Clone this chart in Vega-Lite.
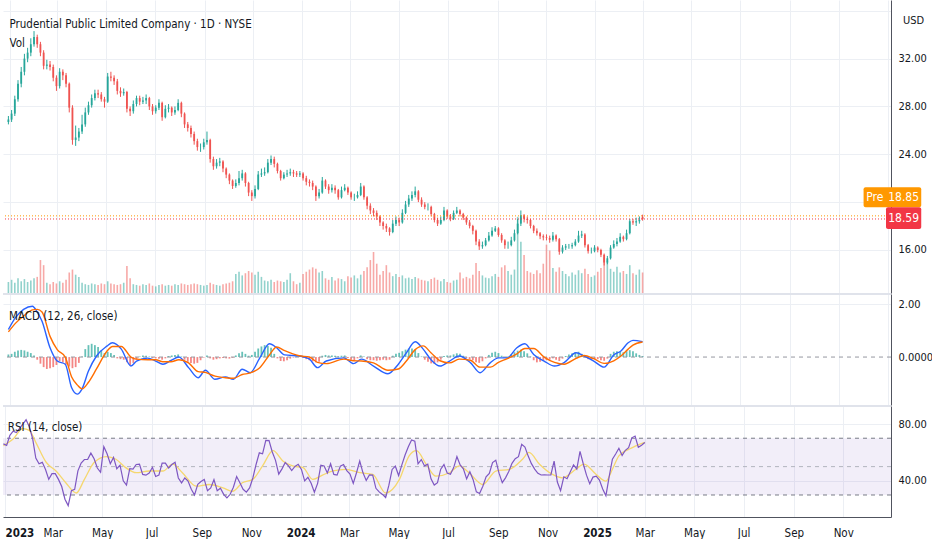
{
  "$schema": "https://vega.github.io/schema/vega-lite/v6.json",
  "background": "#ffffff",
  "padding": 0,
  "spacing": 0,
  "config": {
    "font": "DejaVu Sans Condensed, Liberation Sans Narrow, sans-serif",
    "view": {"stroke": null},
    "axis": {"gridColor": "#eceff4", "gridWidth": 1, "labelColor": "#131722", "labelFontSize": 11, "domainColor": "#50535e", "ticks": false, "title": null},
    "title": {"anchor": "start", "fontSize": 11.5, "fontWeight": "normal", "color": "#131722"}
  },
  "datasets": {
    "bars": [
      {"d":"2022-12-30","o":26.7,"h":27.2,"l":26.5,"c":26.9,"v":1.5,"m":0.1,"r":66},
      {"d":"2023-01-03","o":26.9,"h":27.7,"l":26.7,"c":27.4,"v":1.8,"m":0.12,"r":65},
      {"d":"2023-01-07","o":27.4,"h":28.9,"l":27.2,"c":28.6,"v":1.4,"m":0.2,"r":72},
      {"d":"2023-01-11","o":28.6,"h":30.2,"l":28.4,"c":29.9,"v":2.0,"m":0.25,"r":75},
      {"d":"2023-01-15","o":29.9,"h":31.3,"l":29.6,"c":30.9,"v":1.6,"m":0.27,"r":74},
      {"d":"2023-01-19","o":30.9,"h":32.4,"l":30.6,"c":32.0,"v":1.9,"m":0.25,"r":77},
      {"d":"2023-01-23","o":32.0,"h":32.9,"l":31.7,"c":32.5,"v":1.5,"m":0.2,"r":80},
      {"d":"2023-01-27","o":32.5,"h":33.7,"l":32.2,"c":33.2,"v":1.7,"m":0.15,"r":83},
      {"d":"2023-01-31","o":33.2,"h":34.3,"l":33.0,"c":33.8,"v":2.0,"m":0.06,"r":78},
      {"d":"2023-02-04","o":33.8,"h":34.0,"l":32.9,"c":33.2,"v":2.2,"m":-0.1,"r":70},
      {"d":"2023-02-08","o":33.2,"h":33.4,"l":32.2,"c":32.5,"v":4.5,"m":-0.25,"r":56},
      {"d":"2023-02-12","o":32.5,"h":32.7,"l":31.1,"c":31.4,"v":3.8,"m":-0.38,"r":52},
      {"d":"2023-02-16","o":31.4,"h":31.9,"l":31.1,"c":31.5,"v":1.4,"m":-0.45,"r":53},
      {"d":"2023-02-20","o":31.5,"h":31.8,"l":31.0,"c":31.3,"v":1.2,"m":-0.42,"r":48},
      {"d":"2023-02-24","o":31.3,"h":31.5,"l":30.1,"c":30.4,"v":1.5,"m":-0.38,"r":41},
      {"d":"2023-02-28","o":30.4,"h":30.6,"l":29.3,"c":29.7,"v":1.3,"m":-0.3,"r":45},
      {"d":"2023-03-04","o":29.7,"h":31.2,"l":29.5,"c":30.9,"v":1.6,"m":-0.15,"r":45},
      {"d":"2023-03-08","o":30.9,"h":31.1,"l":30.2,"c":30.6,"v":1.4,"m":-0.2,"r":41},
      {"d":"2023-03-12","o":30.6,"h":30.8,"l":29.6,"c":29.9,"v":1.8,"m":-0.28,"r":36},
      {"d":"2023-03-16","o":29.9,"h":30.0,"l":27.5,"c":27.9,"v":2.8,"m":-0.36,"r":27},
      {"d":"2023-03-20","o":27.9,"h":28.1,"l":24.8,"c":25.2,"v":3.2,"m":-0.42,"r":22.5},
      {"d":"2023-03-24","o":25.2,"h":26.4,"l":24.7,"c":25.4,"v":2.5,"m":-0.38,"r":33},
      {"d":"2023-03-28","o":25.4,"h":26.2,"l":25.1,"c":25.9,"v":2.2,"m":-0.22,"r":34},
      {"d":"2023-04-01","o":25.9,"h":27.3,"l":25.7,"c":26.5,"v":1.4,"m":0.02,"r":47},
      {"d":"2023-04-05","o":26.5,"h":27.9,"l":26.3,"c":27.5,"v":1.2,"m":0.3,"r":52.5},
      {"d":"2023-04-09","o":27.5,"h":28.4,"l":27.3,"c":28.1,"v":1.1,"m":0.45,"r":55},
      {"d":"2023-04-13","o":28.1,"h":29.0,"l":27.9,"c":28.7,"v":1.3,"m":0.5,"r":55},
      {"d":"2023-04-17","o":28.7,"h":29.4,"l":28.5,"c":29.1,"v":1.2,"m":0.45,"r":59.5},
      {"d":"2023-04-21","o":29.1,"h":29.4,"l":28.7,"c":29.0,"v":1.1,"m":0.38,"r":55.5},
      {"d":"2023-04-25","o":29.0,"h":29.2,"l":28.4,"c":28.6,"v":1.3,"m":0.25,"r":49},
      {"d":"2023-04-29","o":28.6,"h":28.8,"l":27.9,"c":28.4,"v":1.2,"m":0.15,"r":46},
      {"d":"2023-05-03","o":28.4,"h":30.8,"l":28.3,"c":30.5,"v":1.6,"m":0.2,"r":64},
      {"d":"2023-05-07","o":30.5,"h":30.9,"l":30.1,"c":30.4,"v":1.3,"m":0.15,"r":59},
      {"d":"2023-05-11","o":30.4,"h":30.6,"l":29.8,"c":30.1,"v":1.2,"m":0.08,"r":52},
      {"d":"2023-05-15","o":30.1,"h":30.3,"l":29.0,"c":29.3,"v":1.1,"m":-0.05,"r":56.5},
      {"d":"2023-05-19","o":29.3,"h":29.6,"l":28.8,"c":29.1,"v":1.2,"m":-0.08,"r":48.5},
      {"d":"2023-05-23","o":29.1,"h":29.5,"l":28.9,"c":29.2,"v":1.4,"m":-0.1,"r":51},
      {"d":"2023-05-27","o":29.2,"h":29.3,"l":27.5,"c":27.8,"v":3.7,"m":-0.2,"r":40},
      {"d":"2023-05-31","o":27.8,"h":28.0,"l":27.2,"c":27.6,"v":2.0,"m":-0.3,"r":37},
      {"d":"2023-06-04","o":27.6,"h":28.5,"l":27.4,"c":28.2,"v":1.2,"m":-0.22,"r":48.5},
      {"d":"2023-06-08","o":28.2,"h":28.9,"l":28.0,"c":28.7,"v":1.1,"m":-0.1,"r":48.2},
      {"d":"2023-06-12","o":28.7,"h":28.9,"l":28.1,"c":28.4,"v":1.0,"m":0.02,"r":51.5},
      {"d":"2023-06-16","o":28.4,"h":28.8,"l":28.2,"c":28.5,"v":1.2,"m":0.06,"r":51.7},
      {"d":"2023-06-20","o":28.5,"h":29.0,"l":28.2,"c":28.7,"v":1.1,"m":0.05,"r":44.5},
      {"d":"2023-06-24","o":28.7,"h":28.8,"l":27.7,"c":28.0,"v":1.3,"m":0.02,"r":44},
      {"d":"2023-06-28","o":28.0,"h":28.2,"l":27.3,"c":27.6,"v":1.0,"m":-0.04,"r":45.5},
      {"d":"2023-07-02","o":27.6,"h":28.1,"l":27.4,"c":27.9,"v":0.9,"m":-0.05,"r":49.5},
      {"d":"2023-07-06","o":27.9,"h":28.6,"l":27.7,"c":28.3,"v":1.1,"m":-0.06,"r":43},
      {"d":"2023-07-10","o":28.3,"h":28.4,"l":26.8,"c":27.1,"v":1.2,"m":-0.1,"r":44},
      {"d":"2023-07-14","o":27.1,"h":28.1,"l":27.0,"c":27.8,"v":1.0,"m":-0.05,"r":52.5},
      {"d":"2023-07-18","o":27.8,"h":28.2,"l":27.5,"c":27.9,"v":1.1,"m":0.04,"r":52.4},
      {"d":"2023-07-22","o":27.9,"h":28.0,"l":27.2,"c":27.5,"v":1.0,"m":0.06,"r":49},
      {"d":"2023-07-26","o":27.5,"h":28.0,"l":27.3,"c":27.7,"v":1.2,"m":0.08,"r":51.5},
      {"d":"2023-07-30","o":27.7,"h":28.6,"l":27.6,"c":28.3,"v":1.1,"m":0.1,"r":53},
      {"d":"2023-08-03","o":28.3,"h":28.4,"l":27.1,"c":27.4,"v":1.3,"m":0.02,"r":42},
      {"d":"2023-08-07","o":27.4,"h":27.5,"l":26.2,"c":26.5,"v":1.2,"m":-0.1,"r":38.5},
      {"d":"2023-08-11","o":26.5,"h":26.7,"l":25.9,"c":26.2,"v":1.1,"m":-0.18,"r":42},
      {"d":"2023-08-15","o":26.2,"h":26.4,"l":25.4,"c":25.7,"v":1.2,"m":-0.22,"r":39.8},
      {"d":"2023-08-19","o":25.7,"h":25.9,"l":24.8,"c":25.1,"v":1.3,"m":-0.25,"r":34},
      {"d":"2023-08-23","o":25.1,"h":25.3,"l":24.3,"c":24.6,"v":1.2,"m":-0.22,"r":30},
      {"d":"2023-08-27","o":24.6,"h":24.9,"l":24.2,"c":24.6,"v":1.1,"m":-0.12,"r":37.5},
      {"d":"2023-08-31","o":24.6,"h":25.3,"l":24.4,"c":25.0,"v":1.0,"m":-0.02,"r":39.5},
      {"d":"2023-09-04","o":25.0,"h":25.9,"l":24.8,"c":25.2,"v":1.1,"m":0.06,"r":41},
      {"d":"2023-09-08","o":25.2,"h":25.3,"l":23.3,"c":23.6,"v":1.4,"m":-0.05,"r":33},
      {"d":"2023-09-12","o":23.6,"h":23.8,"l":22.7,"c":23.0,"v":1.2,"m":-0.1,"r":35},
      {"d":"2023-09-16","o":23.0,"h":23.6,"l":22.8,"c":23.3,"v":1.1,"m":-0.08,"r":40.8},
      {"d":"2023-09-20","o":23.3,"h":23.7,"l":23.0,"c":23.4,"v":1.0,"m":-0.05,"r":33},
      {"d":"2023-09-24","o":23.4,"h":23.5,"l":22.5,"c":22.8,"v":1.2,"m":-0.04,"r":34.8},
      {"d":"2023-09-28","o":22.8,"h":22.9,"l":22.0,"c":22.3,"v":1.3,"m":-0.05,"r":30.5},
      {"d":"2023-10-02","o":22.3,"h":22.4,"l":21.5,"c":21.8,"v":1.4,"m":-0.06,"r":28},
      {"d":"2023-10-06","o":21.8,"h":21.9,"l":21.1,"c":21.35,"v":1.6,"m":-0.03,"r":30.5},
      {"d":"2023-10-10","o":21.35,"h":21.9,"l":21.2,"c":21.6,"v":2.6,"m":0.06,"r":35.5},
      {"d":"2023-10-14","o":21.6,"h":22.6,"l":21.4,"c":22.0,"v":2.9,"m":0.14,"r":43},
      {"d":"2023-10-18","o":22.0,"h":22.7,"l":21.8,"c":22.4,"v":2.4,"m":0.2,"r":38.7},
      {"d":"2023-10-22","o":22.4,"h":22.5,"l":21.3,"c":21.6,"v":2.7,"m":0.12,"r":34},
      {"d":"2023-10-26","o":21.6,"h":21.7,"l":20.5,"c":20.8,"v":3.0,"m":0.05,"r":32},
      {"d":"2023-10-30","o":20.8,"h":21.0,"l":20.1,"c":20.5,"v":2.8,"m":0.08,"r":35},
      {"d":"2023-11-03","o":20.5,"h":21.4,"l":20.3,"c":21.1,"v":2.5,"m":0.2,"r":42},
      {"d":"2023-11-07","o":21.1,"h":22.6,"l":21.0,"c":22.3,"v":2.9,"m":0.32,"r":51.5},
      {"d":"2023-11-11","o":22.3,"h":22.8,"l":22.1,"c":22.4,"v":2.2,"m":0.4,"r":59.7},
      {"d":"2023-11-15","o":22.4,"h":22.9,"l":22.2,"c":22.5,"v":1.7,"m":0.45,"r":59},
      {"d":"2023-11-19","o":22.5,"h":23.6,"l":22.4,"c":23.3,"v":1.6,"m":0.42,"r":68.5},
      {"d":"2023-11-23","o":23.3,"h":23.9,"l":23.1,"c":23.6,"v":1.8,"m":0.35,"r":68.3},
      {"d":"2023-11-27","o":23.6,"h":23.8,"l":22.9,"c":23.2,"v":1.5,"m":0.12,"r":60.3},
      {"d":"2023-12-01","o":23.2,"h":23.3,"l":22.4,"c":22.6,"v":1.7,"m":-0.05,"r":54.4},
      {"d":"2023-12-05","o":22.6,"h":22.7,"l":21.8,"c":22.0,"v":1.6,"m":-0.15,"r":44.7},
      {"d":"2023-12-09","o":22.0,"h":22.5,"l":21.9,"c":22.3,"v":1.5,"m":-0.16,"r":48.4},
      {"d":"2023-12-13","o":22.3,"h":22.7,"l":22.1,"c":22.4,"v":1.8,"m":-0.12,"r":52.9},
      {"d":"2023-12-17","o":22.4,"h":22.8,"l":22.2,"c":22.5,"v":2.7,"m":-0.06,"r":50.5},
      {"d":"2023-12-21","o":22.5,"h":22.7,"l":22.1,"c":22.4,"v":1.6,"m":-0.02,"r":47.2},
      {"d":"2023-12-25","o":22.4,"h":22.6,"l":22.1,"c":22.3,"v":1.2,"m":0.02,"r":50.1},
      {"d":"2023-12-29","o":22.3,"h":22.6,"l":22.1,"c":22.4,"v":1.4,"m":0.02,"r":51.6},
      {"d":"2024-01-02","o":22.4,"h":22.5,"l":21.8,"c":22.0,"v":2.6,"m":-0.04,"r":48},
      {"d":"2024-01-06","o":22.0,"h":22.2,"l":21.4,"c":21.7,"v":2.9,"m":-0.08,"r":40},
      {"d":"2024-01-10","o":21.7,"h":21.9,"l":21.3,"c":21.6,"v":3.2,"m":-0.12,"r":42.5},
      {"d":"2024-01-14","o":21.6,"h":21.8,"l":21.0,"c":21.3,"v":3.5,"m":-0.16,"r":38.3},
      {"d":"2024-01-18","o":21.3,"h":21.4,"l":20.1,"c":20.5,"v":3.3,"m":-0.2,"r":32},
      {"d":"2024-01-22","o":20.5,"h":21.1,"l":20.3,"c":20.8,"v":2.8,"m":-0.18,"r":38.2},
      {"d":"2024-01-26","o":20.8,"h":22.1,"l":20.7,"c":21.8,"v":3.0,"m":0.05,"r":51},
      {"d":"2024-01-30","o":21.8,"h":21.9,"l":21.1,"c":21.3,"v":2.0,"m":0.08,"r":50.5},
      {"d":"2024-02-03","o":21.3,"h":21.5,"l":20.7,"c":21.0,"v":1.8,"m":0.06,"r":45.5},
      {"d":"2024-02-07","o":21.0,"h":21.5,"l":20.8,"c":21.2,"v":2.2,"m":0.06,"r":52},
      {"d":"2024-02-11","o":21.2,"h":21.4,"l":20.7,"c":21.0,"v":1.7,"m":0.05,"r":44.5},
      {"d":"2024-02-15","o":21.0,"h":21.1,"l":20.2,"c":20.4,"v":2.0,"m":0.03,"r":44},
      {"d":"2024-02-19","o":20.4,"h":21.3,"l":20.3,"c":21.0,"v":1.9,"m":0.05,"r":50.3},
      {"d":"2024-02-23","o":21.0,"h":21.5,"l":20.9,"c":21.2,"v":1.6,"m":0.06,"r":51.5},
      {"d":"2024-02-27","o":21.2,"h":21.3,"l":20.6,"c":20.8,"v":2.3,"m":-0.04,"r":47.2},
      {"d":"2024-03-02","o":20.8,"h":20.9,"l":20.2,"c":20.4,"v":2.1,"m":-0.1,"r":44.8},
      {"d":"2024-03-06","o":20.4,"h":20.7,"l":20.1,"c":20.4,"v":2.4,"m":-0.12,"r":38.2},
      {"d":"2024-03-10","o":20.4,"h":20.9,"l":20.3,"c":20.6,"v":2.0,"m":-0.05,"r":45.7},
      {"d":"2024-03-14","o":20.6,"h":21.6,"l":20.5,"c":21.3,"v":2.5,"m":0.06,"r":53.9},
      {"d":"2024-03-18","o":21.3,"h":21.4,"l":20.2,"c":20.4,"v":3.0,"m":0.02,"r":45.6},
      {"d":"2024-03-22","o":20.4,"h":20.5,"l":19.4,"c":19.7,"v":3.5,"m":-0.08,"r":40.3},
      {"d":"2024-03-26","o":19.7,"h":19.9,"l":19.0,"c":19.3,"v":4.5,"m":-0.12,"r":44.2},
      {"d":"2024-03-30","o":19.3,"h":19.5,"l":18.8,"c":19.1,"v":5.6,"m":-0.12,"r":44},
      {"d":"2024-04-03","o":19.1,"h":19.3,"l":18.5,"c":18.8,"v":4.0,"m":-0.14,"r":34.7},
      {"d":"2024-04-07","o":18.8,"h":18.9,"l":18.0,"c":18.3,"v":2.5,"m":-0.12,"r":32.2},
      {"d":"2024-04-11","o":18.3,"h":18.4,"l":17.7,"c":18.0,"v":3.0,"m":-0.1,"r":30.4},
      {"d":"2024-04-15","o":18.0,"h":18.2,"l":17.5,"c":17.8,"v":3.8,"m":-0.12,"r":28.2},
      {"d":"2024-04-19","o":17.8,"h":17.9,"l":17.2,"c":17.5,"v":2.8,"m":-0.1,"r":36.9},
      {"d":"2024-04-23","o":17.5,"h":18.5,"l":17.4,"c":18.2,"v":2.3,"m":0.05,"r":48},
      {"d":"2024-04-27","o":18.2,"h":18.8,"l":18.0,"c":18.5,"v":2.6,"m":0.12,"r":50.3},
      {"d":"2024-05-01","o":18.5,"h":18.7,"l":18.0,"c":18.3,"v":2.2,"m":0.16,"r":43.7},
      {"d":"2024-05-05","o":18.3,"h":19.4,"l":18.2,"c":19.1,"v":2.4,"m":0.22,"r":51.2},
      {"d":"2024-05-09","o":19.1,"h":20.1,"l":19.0,"c":19.8,"v":2.0,"m":0.28,"r":58.2},
      {"d":"2024-05-13","o":19.8,"h":20.6,"l":19.6,"c":20.3,"v":2.1,"m":0.32,"r":64},
      {"d":"2024-05-17","o":20.3,"h":20.9,"l":20.1,"c":20.6,"v":1.9,"m":0.32,"r":68.8},
      {"d":"2024-05-21","o":20.6,"h":21.3,"l":20.4,"c":20.9,"v":2.2,"m":0.28,"r":67.9},
      {"d":"2024-05-25","o":20.9,"h":21.0,"l":20.0,"c":20.2,"v":2.0,"m":0.15,"r":52},
      {"d":"2024-05-29","o":20.2,"h":20.4,"l":19.6,"c":19.8,"v":1.8,"m":0.02,"r":55},
      {"d":"2024-06-02","o":19.8,"h":20.0,"l":19.4,"c":19.6,"v":1.7,"m":-0.1,"r":50.5},
      {"d":"2024-06-06","o":19.6,"h":19.9,"l":19.3,"c":19.6,"v":1.6,"m":-0.18,"r":51.7},
      {"d":"2024-06-10","o":19.6,"h":19.7,"l":18.8,"c":19.0,"v":1.9,"m":-0.24,"r":41.4},
      {"d":"2024-06-14","o":19.0,"h":19.1,"l":18.3,"c":18.5,"v":2.1,"m":-0.26,"r":37},
      {"d":"2024-06-18","o":18.5,"h":18.7,"l":18.0,"c":18.2,"v":1.8,"m":-0.2,"r":38.7},
      {"d":"2024-06-22","o":18.2,"h":18.8,"l":18.1,"c":18.5,"v":1.6,"m":-0.1,"r":48.2},
      {"d":"2024-06-26","o":18.5,"h":19.6,"l":18.4,"c":19.3,"v":1.9,"m":0.04,"r":51.4},
      {"d":"2024-06-30","o":19.3,"h":19.4,"l":18.6,"c":18.8,"v":1.5,"m":0.06,"r":45.5},
      {"d":"2024-07-04","o":18.8,"h":19.0,"l":18.4,"c":18.6,"v":1.4,"m":0.06,"r":44.6},
      {"d":"2024-07-08","o":18.6,"h":19.3,"l":18.5,"c":19.1,"v":1.7,"m":0.1,"r":49.3},
      {"d":"2024-07-12","o":19.1,"h":19.6,"l":19.0,"c":19.3,"v":1.8,"m":0.14,"r":57},
      {"d":"2024-07-16","o":19.3,"h":19.4,"l":18.8,"c":19.0,"v":2.8,"m":0.12,"r":51.2},
      {"d":"2024-07-20","o":19.0,"h":19.1,"l":18.5,"c":18.7,"v":2.0,"m":0.05,"r":48.5},
      {"d":"2024-07-24","o":18.7,"h":18.8,"l":18.1,"c":18.3,"v":2.2,"m":-0.04,"r":41.4},
      {"d":"2024-07-28","o":18.3,"h":18.5,"l":17.8,"c":18.0,"v":2.0,"m":-0.08,"r":46.4},
      {"d":"2024-08-01","o":18.0,"h":18.1,"l":17.3,"c":17.6,"v":2.5,"m":-0.12,"r":40.8},
      {"d":"2024-08-05","o":17.6,"h":17.7,"l":16.4,"c":16.7,"v":4.1,"m":-0.2,"r":32.2},
      {"d":"2024-08-09","o":16.7,"h":16.9,"l":16.0,"c":16.3,"v":3.0,"m":-0.22,"r":31.1},
      {"d":"2024-08-13","o":16.3,"h":16.7,"l":16.1,"c":16.4,"v":2.4,"m":-0.16,"r":36.2},
      {"d":"2024-08-17","o":16.4,"h":17.0,"l":16.3,"c":16.8,"v":2.1,"m":-0.05,"r":42.8},
      {"d":"2024-08-21","o":16.8,"h":17.5,"l":16.7,"c":17.2,"v":2.0,"m":0.08,"r":45.2},
      {"d":"2024-08-25","o":17.2,"h":17.9,"l":17.1,"c":17.6,"v":2.3,"m":0.16,"r":52.8},
      {"d":"2024-08-29","o":17.6,"h":18.0,"l":17.5,"c":17.8,"v":2.6,"m":0.2,"r":54.5},
      {"d":"2024-09-02","o":17.8,"h":17.9,"l":17.1,"c":17.25,"v":2.2,"m":0.15,"r":45.4},
      {"d":"2024-09-06","o":17.25,"h":17.4,"l":16.6,"c":16.8,"v":3.5,"m":0.05,"r":38.7},
      {"d":"2024-09-10","o":16.8,"h":16.9,"l":16.1,"c":16.4,"v":3.8,"m":0.0,"r":42.1},
      {"d":"2024-09-14","o":16.4,"h":16.7,"l":16.1,"c":16.4,"v":3.0,"m":0.02,"r":46.5},
      {"d":"2024-09-18","o":16.4,"h":17.1,"l":16.3,"c":16.8,"v":2.5,"m":0.1,"r":52.3},
      {"d":"2024-09-22","o":16.8,"h":17.7,"l":16.7,"c":17.4,"v":3.2,"m":0.18,"r":55.6},
      {"d":"2024-09-26","o":17.4,"h":18.6,"l":17.3,"c":18.2,"v":10.4,"m":0.24,"r":57},
      {"d":"2024-09-30","o":18.2,"h":19.3,"l":18.0,"c":18.9,"v":7.0,"m":0.28,"r":65.7},
      {"d":"2024-10-04","o":18.9,"h":19.0,"l":18.3,"c":18.6,"v":5.2,"m":0.22,"r":63.8},
      {"d":"2024-10-08","o":18.6,"h":18.8,"l":18.2,"c":18.5,"v":3.0,"m":0.14,"r":57.4},
      {"d":"2024-10-12","o":18.5,"h":18.6,"l":17.8,"c":18.0,"v":2.8,"m":0.02,"r":52.1},
      {"d":"2024-10-16","o":18.0,"h":18.1,"l":17.4,"c":17.6,"v":2.6,"m":-0.12,"r":48.2},
      {"d":"2024-10-20","o":17.6,"h":17.8,"l":17.2,"c":17.4,"v":3.1,"m":-0.2,"r":45.3},
      {"d":"2024-10-24","o":17.4,"h":17.5,"l":16.9,"c":17.15,"v":2.7,"m":-0.18,"r":44.1},
      {"d":"2024-10-28","o":17.15,"h":17.3,"l":16.8,"c":17.05,"v":4.0,"m":-0.14,"r":44.2},
      {"d":"2024-11-01","o":17.05,"h":17.3,"l":16.8,"c":17.0,"v":6.6,"m":-0.12,"r":44.1},
      {"d":"2024-11-05","o":17.0,"h":17.2,"l":16.6,"c":16.85,"v":5.8,"m":-0.1,"r":44.2},
      {"d":"2024-11-09","o":16.85,"h":17.5,"l":16.7,"c":17.2,"v":3.4,"m":-0.05,"r":53.8},
      {"d":"2024-11-13","o":17.2,"h":17.3,"l":16.7,"c":16.9,"v":2.9,"m":-0.1,"r":39.1},
      {"d":"2024-11-17","o":16.9,"h":17.0,"l":15.6,"c":15.85,"v":3.5,"m":-0.15,"r":33},
      {"d":"2024-11-21","o":15.85,"h":16.4,"l":15.7,"c":16.2,"v":3.0,"m":-0.06,"r":42.8},
      {"d":"2024-11-25","o":16.2,"h":16.5,"l":16.0,"c":16.3,"v":2.6,"m":0.04,"r":41.5},
      {"d":"2024-11-29","o":16.3,"h":16.5,"l":16.1,"c":16.3,"v":2.3,"m":0.1,"r":46.3},
      {"d":"2024-12-03","o":16.3,"h":16.6,"l":16.1,"c":16.4,"v":2.8,"m":0.14,"r":51.2},
      {"d":"2024-12-07","o":16.4,"h":16.9,"l":16.3,"c":16.7,"v":2.5,"m":0.18,"r":48.2},
      {"d":"2024-12-11","o":16.7,"h":17.6,"l":16.6,"c":17.2,"v":3.1,"m":0.2,"r":60.8},
      {"d":"2024-12-15","o":17.2,"h":17.6,"l":17.0,"c":17.3,"v":2.7,"m":0.12,"r":52},
      {"d":"2024-12-19","o":17.3,"h":17.4,"l":16.2,"c":16.4,"v":3.3,"m":-0.02,"r":44},
      {"d":"2024-12-23","o":16.4,"h":16.5,"l":15.7,"c":15.9,"v":2.6,"m":-0.08,"r":38},
      {"d":"2024-12-27","o":15.9,"h":16.2,"l":15.7,"c":15.9,"v":2.2,"m":-0.1,"r":42.6},
      {"d":"2024-12-31","o":15.9,"h":16.4,"l":15.8,"c":16.2,"v":2.4,"m":-0.08,"r":43.3},
      {"d":"2025-01-04","o":16.2,"h":16.3,"l":15.8,"c":16.0,"v":2.9,"m":-0.08,"r":40.5},
      {"d":"2025-01-08","o":16.0,"h":16.1,"l":15.4,"c":15.6,"v":3.4,"m":-0.12,"r":34.2},
      {"d":"2025-01-12","o":15.6,"h":15.7,"l":14.7,"c":14.95,"v":4.8,"m":-0.14,"r":29.5},
      {"d":"2025-01-16","o":14.95,"h":15.5,"l":14.8,"c":15.3,"v":4.3,"m":-0.06,"r":43},
      {"d":"2025-01-20","o":15.3,"h":16.4,"l":15.2,"c":16.2,"v":3.3,"m":0.12,"r":55.2},
      {"d":"2025-01-24","o":16.2,"h":16.8,"l":16.1,"c":16.5,"v":2.9,"m":0.2,"r":58.9},
      {"d":"2025-01-28","o":16.5,"h":17.0,"l":16.3,"c":16.7,"v":3.6,"m":0.22,"r":62.9},
      {"d":"2025-02-01","o":16.7,"h":17.4,"l":16.6,"c":17.1,"v":2.8,"m":0.2,"r":57.9},
      {"d":"2025-02-05","o":17.1,"h":17.2,"l":16.7,"c":16.9,"v":3.0,"m":0.18,"r":61.5},
      {"d":"2025-02-09","o":16.9,"h":17.7,"l":16.8,"c":17.4,"v":2.6,"m":0.22,"r":63.4},
      {"d":"2025-02-13","o":17.4,"h":18.6,"l":17.3,"c":18.4,"v":3.8,"m":0.26,"r":70.3},
      {"d":"2025-02-17","o":18.4,"h":18.6,"l":18.1,"c":18.3,"v":2.7,"m":0.22,"r":71.5},
      {"d":"2025-02-21","o":18.3,"h":18.7,"l":18.0,"c":18.4,"v":2.5,"m":0.14,"r":63.6},
      {"d":"2025-02-25","o":18.4,"h":18.8,"l":18.2,"c":18.5,"v":3.2,"m":0.08,"r":65.1},
      {"d":"2025-03-01","o":18.75,"h":18.95,"l":18.45,"c":18.59,"v":2.8,"m":0.04,"r":67}
    ],
    "macd": [
      {"d":"2022-12-30","b":1.04,"s":0.95},
      {"d":"2023-01-08","b":1.5,"s":1.28},
      {"d":"2023-01-18","b":1.8,"s":1.55},
      {"d":"2023-01-29","b":1.92,"s":1.78},
      {"d":"2023-02-04","b":1.7,"s":1.8},
      {"d":"2023-02-10","b":1.35,"s":1.7},
      {"d":"2023-02-20","b":0.35,"s":0.78},
      {"d":"2023-03-01","b":-0.15,"s":0.28},
      {"d":"2023-03-11","b":-0.27,"s":0.0},
      {"d":"2023-03-19","b":-1.16,"s":-0.75},
      {"d":"2023-03-26","b":-1.4,"s":-1.05},
      {"d":"2023-04-01","b":-1.2,"s":-1.2},
      {"d":"2023-04-09","b":-0.53,"s":-0.95},
      {"d":"2023-04-19","b":0.04,"s":-0.45},
      {"d":"2023-05-02","b":0.41,"s":0.22},
      {"d":"2023-05-09","b":0.54,"s":0.4},
      {"d":"2023-05-20","b":0.3,"s":0.4},
      {"d":"2023-06-01","b":-0.34,"s":0.0},
      {"d":"2023-06-08","b":-0.15,"s":-0.08},
      {"d":"2023-06-22","b":-0.04,"s":-0.1},
      {"d":"2023-07-02","b":-0.15,"s":-0.1},
      {"d":"2023-07-11","b":-0.27,"s":-0.18},
      {"d":"2023-07-21","b":-0.13,"s":-0.18},
      {"d":"2023-07-31","b":0.0,"s":-0.1},
      {"d":"2023-08-12","b":-0.4,"s":-0.22},
      {"d":"2023-08-24","b":-0.78,"s":-0.55},
      {"d":"2023-09-02","b":-0.5,"s":-0.58},
      {"d":"2023-09-14","b":-0.84,"s":-0.72},
      {"d":"2023-09-27","b":-0.75,"s":-0.78},
      {"d":"2023-10-07","b":-0.84,"s":-0.8},
      {"d":"2023-10-18","b":-0.46,"s":-0.66},
      {"d":"2023-10-28","b":-0.59,"s":-0.6},
      {"d":"2023-11-09","b":-0.03,"s":-0.4},
      {"d":"2023-11-21","b":0.5,"s":0.08},
      {"d":"2023-11-30","b":0.35,"s":0.38},
      {"d":"2023-12-10","b":0.08,"s":0.24},
      {"d":"2023-12-28","b":0.04,"s":0.05},
      {"d":"2024-01-10","b":-0.08,"s":0.0},
      {"d":"2024-01-20","b":-0.4,"s":-0.2},
      {"d":"2024-01-31","b":-0.15,"s":-0.25},
      {"d":"2024-02-22","b":-0.03,"s":-0.08},
      {"d":"2024-03-05","b":-0.25,"s":-0.14},
      {"d":"2024-03-15","b":-0.08,"s":-0.15},
      {"d":"2024-03-30","b":-0.34,"s":-0.22},
      {"d":"2024-04-17","b":-0.63,"s":-0.5},
      {"d":"2024-04-30","b":-0.27,"s":-0.45},
      {"d":"2024-05-10","b":0.16,"s":-0.15},
      {"d":"2024-05-21","b":0.58,"s":0.28},
      {"d":"2024-05-31","b":0.3,"s":0.42},
      {"d":"2024-06-10","b":-0.11,"s":0.15},
      {"d":"2024-06-21","b":-0.34,"s":-0.14},
      {"d":"2024-07-03","b":-0.15,"s":-0.22},
      {"d":"2024-07-15","b":0.04,"s":-0.08},
      {"d":"2024-07-29","b":-0.21,"s":-0.12},
      {"d":"2024-08-10","b":-0.59,"s":-0.38},
      {"d":"2024-08-23","b":-0.21,"s":-0.38},
      {"d":"2024-09-02","b":-0.03,"s":-0.2},
      {"d":"2024-09-13","b":-0.03,"s":-0.06},
      {"d":"2024-09-25","b":0.35,"s":0.12},
      {"d":"2024-10-05","b":0.5,"s":0.32},
      {"d":"2024-10-16","b":0.1,"s":0.32},
      {"d":"2024-10-29","b":-0.15,"s":0.0},
      {"d":"2024-11-11","b":-0.34,"s":-0.2},
      {"d":"2024-11-23","b":-0.21,"s":-0.27},
      {"d":"2024-12-08","b":0.16,"s":-0.05},
      {"d":"2024-12-18","b":0.04,"s":0.06},
      {"d":"2024-12-30","b":-0.15,"s":-0.06},
      {"d":"2025-01-12","b":-0.38,"s":-0.24},
      {"d":"2025-01-24","b":0.08,"s":-0.14},
      {"d":"2025-02-02","b":0.23,"s":0.04},
      {"d":"2025-02-11","b":0.54,"s":0.3},
      {"d":"2025-02-17","b":0.63,"s":0.45},
      {"d":"2025-03-01","b":0.58,"s":0.57}
    ],
    "rsima": [
      {"d":"2022-12-30","a":64.8},
      {"d":"2023-01-11","a":69.5},
      {"d":"2023-01-23","a":76.7},
      {"d":"2023-01-31","a":75.5},
      {"d":"2023-02-08","a":67.1},
      {"d":"2023-02-21","a":52.9},
      {"d":"2023-03-05","a":46.9},
      {"d":"2023-03-17","a":38.6},
      {"d":"2023-03-30","a":31.4},
      {"d":"2023-04-09","a":41},
      {"d":"2023-04-21","a":52.9},
      {"d":"2023-05-06","a":57.1},
      {"d":"2023-05-18","a":55.2},
      {"d":"2023-05-30","a":49.3},
      {"d":"2023-06-12","a":45.7},
      {"d":"2023-06-28","a":46.9},
      {"d":"2023-07-15","a":46.9},
      {"d":"2023-07-27","a":51.7},
      {"d":"2023-08-08","a":45.7},
      {"d":"2023-08-25","a":36.2},
      {"d":"2023-09-10","a":37.4},
      {"d":"2023-09-27","a":35},
      {"d":"2023-10-09","a":32.6},
      {"d":"2023-10-21","a":38.6},
      {"d":"2023-11-03","a":41},
      {"d":"2023-11-15","a":50.5},
      {"d":"2023-11-28","a":61.2},
      {"d":"2023-12-10","a":54},
      {"d":"2023-12-22","a":50.5},
      {"d":"2024-01-04","a":49.3},
      {"d":"2024-01-16","a":41},
      {"d":"2024-01-28","a":44},
      {"d":"2024-02-10","a":47},
      {"d":"2024-02-26","a":48.1},
      {"d":"2024-03-14","a":45.7},
      {"d":"2024-03-30","a":44.5},
      {"d":"2024-04-15","a":31.4},
      {"d":"2024-05-02","a":41},
      {"d":"2024-05-14","a":57.6},
      {"d":"2024-05-23","a":61.2},
      {"d":"2024-06-04","a":51.7},
      {"d":"2024-06-16","a":43.3},
      {"d":"2024-07-03","a":45.7},
      {"d":"2024-07-15","a":50.5},
      {"d":"2024-07-27","a":45.7},
      {"d":"2024-08-13","a":37.4},
      {"d":"2024-08-29","a":46.9},
      {"d":"2024-09-15","a":48.1},
      {"d":"2024-10-01","a":55.2},
      {"d":"2024-10-09","a":60},
      {"d":"2024-10-22","a":51.7},
      {"d":"2024-11-07","a":44.5},
      {"d":"2024-11-19","a":42.1},
      {"d":"2024-12-06","a":48.1},
      {"d":"2024-12-16","a":51.7},
      {"d":"2024-12-31","a":44.5},
      {"d":"2025-01-12","a":39.8},
      {"d":"2025-01-20","a":48.1},
      {"d":"2025-01-28","a":57.6},
      {"d":"2025-02-10","a":62.4},
      {"d":"2025-03-01","a":67.1}
    ]
  },
  "vconcat": [
    {
      "width": 888,
      "height": 293,
      "title": {"text": "Prudential Public Limited Company · 1D · NYSE", "subtitle": "Vol", "subtitleColor": "#131722", "subtitleFontSize": 11.5, "subtitlePadding": 7, "offset": -49, "dx": 7},
      "layer": [
        {
          "data": {"name": "bars"},
          "mark": {"type": "bar", "width": 1.6, "opacity": 0.5},
          "encoding": {
            "x": {"field": "d", "type": "temporal", "scale": {"domain": [{"year": 2022, "month": 12, "date": 29, "hours": 12, "utc": true}, {"year": 2025, "month": 12, "date": 30, "utc": true}]}, "axis": {"grid": true, "labels": false, "domain": false, "ticks": false, "tickCount": {"interval": "month", "step": 2}}},
            "y": {"field": "v", "type": "quantitative", "scale": {"domain": [0, 40]}, "axis": null},
            "color": {"condition": {"test": "datum.c >= datum.o", "value": "#26a69a"}, "value": "#ef5350"}
          }
        },
        {
          "layer": [
            {
              "data": {"name": "bars"},
              "mark": {"type": "rule", "strokeWidth": 1},
              "encoding": {
                "x": {"field": "d", "type": "temporal"},
                "y": {"field": "l", "type": "quantitative", "scale": {"domain": [12.4, 36.9], "nice": false, "zero": false}, "axis": {"orient": "right", "values": [16, 20, 24, 28, 32, 36], "labelExpr": "datum.value == 20 || datum.value == 36 ? '' : format(datum.value, '.2f')", "grid": true, "labelPadding": 7, "title": "USD", "titleAngle": 0, "titleX": 22, "titleY": 20, "titleAlign": "center", "titleBaseline": "middle", "titleFontSize": 11, "titleFontWeight": "normal", "titleColor": "#131722"}},
                "y2": {"field": "h"},
                "color": {"condition": {"test": "datum.c >= datum.o", "value": "#26a69a"}, "value": "#ef5350"}
              }
            },
            {
              "data": {"name": "bars"},
              "mark": {"type": "bar", "width": 1.8},
              "encoding": {
                "x": {"field": "d", "type": "temporal"},
                "y": {"field": "o", "type": "quantitative"},
                "y2": {"field": "c"},
                "color": {"condition": {"test": "datum.c >= datum.o", "value": "#26a69a"}, "value": "#ef5350"}
              }
            },
            {
              "data": {"values": [{}]},
              "mark": {"type": "rule", "color": "#ff9800", "strokeDash": [1, 2], "strokeWidth": 1},
              "encoding": {"y": {"datum": 18.85}}
            },
            {
              "data": {"values": [{}]},
              "mark": {"type": "rule", "color": "#f23645", "strokeDash": [1, 2], "strokeWidth": 1},
              "encoding": {"y": {"datum": 18.59}}
            },
            {
              "data": {"values": [{}]},
              "mark": {"type": "rect", "color": "#ff9800", "cornerRadius": 2},
              "encoding": {
                "x": {"datum": {"year": 2025, "month": 12, "date": 2, "utc": true}},
                "x2": {"datum": {"year": 2026, "month": 2, "date": 12, "utc": true}},
                "y": {"datum": 21.25},
                "y2": {"datum": 19.58}
              }
            },
            {
              "data": {"values": [{}]},
              "mark": {"type": "rect", "color": "#f23645", "cornerRadius": 2},
              "encoding": {
                "x": {"datum": {"year": 2025, "month": 12, "date": 30, "utc": true}},
                "x2": {"datum": {"year": 2026, "month": 2, "date": 12, "utc": true}},
                "y": {"datum": 19.58},
                "y2": {"datum": 17.75}
              }
            },
            {
              "data": {"values": [{}]},
              "mark": {"type": "text", "color": "#ffffff", "fontSize": 12, "align": "center", "baseline": "middle"},
              "encoding": {
                "x": {"datum": {"year": 2025, "month": 12, "date": 16, "utc": true}},
                "y": {"datum": 20.42},
                "text": {"value": "Pre"}
              }
            },
            {
              "data": {"values": [{}]},
              "mark": {"type": "text", "color": "#ffffff", "fontSize": 12, "align": "center", "baseline": "middle"},
              "encoding": {
                "x": {"datum": {"year": 2026, "month": 1, "date": 21, "utc": true}},
                "y": {"datum": 20.42},
                "text": {"value": "18.85"}
              }
            },
            {
              "data": {"values": [{}]},
              "mark": {"type": "text", "color": "#ffffff", "fontSize": 12, "align": "center", "baseline": "middle"},
              "encoding": {
                "x": {"datum": {"year": 2026, "month": 1, "date": 21, "utc": true}},
                "y": {"datum": 18.67},
                "text": {"value": "18.59"}
              }
            }
          ]
        }
      ],
      "resolve": {"scale": {"y": "independent"}}
    },
    {
      "width": 888,
      "height": 111,
      "title": {"text": "MACD (12, 26, close)", "offset": -29, "dx": 7},
      "layer": [
        {
          "data": {"name": "bars"},
          "mark": {"type": "bar", "width": 1.8, "opacity": 0.7},
          "encoding": {
            "x": {"field": "d", "type": "temporal", "scale": {"domain": [{"year": 2022, "month": 12, "date": 29, "hours": 12, "utc": true}, {"year": 2025, "month": 12, "date": 30, "utc": true}]}, "axis": {"grid": true, "labels": false, "domain": false, "ticks": false, "tickCount": {"interval": "month", "step": 2}}},
            "y": {"field": "m", "type": "quantitative", "scale": {"domain": [-1.81, 2.38], "nice": false, "zero": false}, "axis": {"orient": "right", "values": [0, 2], "labelExpr": "datum.value == 0 ? '0.0000' : format(datum.value, '.2f')", "grid": true, "gridColor": {"condition": {"test": "datum.value == 0", "value": "transparent"}, "value": "#eceff4"}, "labelPadding": 7}},
            "y2": {"datum": 0},
            "color": {"condition": {"test": "datum.m >= 0", "value": "#26a69a"}, "value": "#ef5350"}
          }
        },
        {
          "data": {"values": [{}]},
          "mark": {"type": "rule", "color": "#e0e3eb", "strokeWidth": 2},
          "encoding": {"y": {"datum": 2.38}}
        },
        {
          "data": {"values": [{}]},
          "mark": {"type": "rule", "color": "#9598a1", "strokeDash": [4, 4], "strokeWidth": 1},
          "encoding": {"y": {"datum": 0}}
        },
        {
          "data": {"name": "macd"},
          "mark": {"type": "line", "color": "#2962ff", "strokeWidth": 1.4, "interpolate": "monotone"},
          "encoding": {
            "x": {"field": "d", "type": "temporal"},
            "y": {"field": "b", "type": "quantitative"}
          }
        },
        {
          "data": {"name": "macd"},
          "mark": {"type": "line", "color": "#ff6d00", "strokeWidth": 1.4, "interpolate": "monotone"},
          "encoding": {
            "x": {"field": "d", "type": "temporal"},
            "y": {"field": "s", "type": "quantitative"}
          }
        }
      ]
    },
    {
      "width": 888,
      "height": 111,
      "title": {"text": "RSI (14, close)", "offset": -28, "dx": 7},
      "layer": [
        {
          "data": {"values": [{}]},
          "mark": {"type": "rect", "color": "#7e57c2", "opacity": 0.1},
          "encoding": {
            "x": {"datum": {"year": 2022, "month": 12, "date": 29, "hours": 12, "utc": true}, "type": "temporal", "scale": {"domain": [{"year": 2022, "month": 12, "date": 29, "hours": 12, "utc": true}, {"year": 2025, "month": 12, "date": 30, "utc": true}]}, "axis": {"grid": true, "domain": true, "ticks": false, "tickCount": {"interval": "month", "step": 2}, "labelExpr": "month(datum.value) == 0 ? timeFormat(datum.value, '%Y') : timeFormat(datum.value, '%b')", "labelFontSize": 11.5, "labelFontWeight": {"condition": {"test": "month(datum.value) == 0", "value": "bold"}, "value": "normal"}, "labelFlush": 5, "labelPadding": 10}},
            "x2": {"datum": {"year": 2025, "month": 12, "date": 30, "utc": true}},
            "y": {"datum": 30, "type": "quantitative", "scale": {"domain": [14.5, 92.7], "nice": false, "zero": false}, "axis": {"orient": "right", "values": [40, 80], "format": ".2f", "grid": true, "labelPadding": 7}},
            "y2": {"datum": 70}
          }
        },
        {
          "data": {"values": [{}]},
          "mark": {"type": "rule", "color": "#e0e3eb", "strokeWidth": 2},
          "encoding": {"y": {"datum": 92.7}}
        },
        {
          "data": {"values": [{"lv": 70}, {"lv": 30}]},
          "mark": {"type": "rule", "color": "#787b86", "strokeDash": [4, 4], "strokeWidth": 1},
          "encoding": {"y": {"field": "lv", "type": "quantitative"}}
        },
        {
          "data": {"values": [{}]},
          "mark": {"type": "rule", "color": "#b2b5be", "strokeDash": [4, 4], "strokeWidth": 1},
          "encoding": {"y": {"datum": 50}}
        },
        {
          "data": {"name": "rsima"},
          "mark": {"type": "line", "color": "#f5d76e", "strokeWidth": 1.3, "interpolate": "monotone"},
          "encoding": {
            "x": {"field": "d", "type": "temporal"},
            "y": {"field": "a", "type": "quantitative"}
          }
        },
        {
          "data": {"name": "bars"},
          "mark": {"type": "line", "color": "#7e57c2", "strokeWidth": 1.2},
          "encoding": {
            "x": {"field": "d", "type": "temporal"},
            "y": {"field": "r", "type": "quantitative"}
          }
        }
      ]
    }
  ]
}
